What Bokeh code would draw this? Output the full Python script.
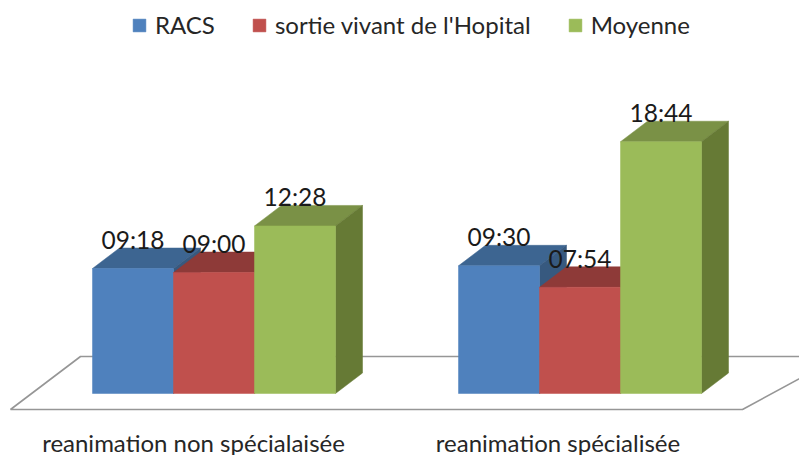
from bokeh.plotting import figure
from bokeh.models import Range1d, Legend, LegendItem, ColumnDataSource
from bokeh.core.properties import value
from bokeh.embed import file_html
from bokeh.resources import INLINE

categories = ["reanimation non spécialaisée", "reanimation spécialisée"]
series_names = ["RACS", "sortie vivant de l'Hopital", "Moyenne"]
racs = ["09:18", "09:30"]
sortie = ["09:00", "07:54"]
moyenne = ["12:28", "18:44"]

front_colors = ["#4F81BD", "#C0504D", "#9BBB59"]
top_colors = ["#3D6591", "#8E3A38", "#7A9146"]
side_colors = ["#37597F", "#7D3331", "#667A35"]

FONT = "Lato"
PX_PER_HOUR = 13.44
BASE_Y = 393          # reference pixel row of hour 0
GROUP_LEFT = [92, 458]
BAR_W = 81
DEPTH_X, DEPTH_Y = 27, 20.5


def hours(s):
    h, m = s.split(":")
    return int(h) + int(m) / 60


def row(px):          # reference pixel row -> data value
    return (BASE_Y - px) / PX_PER_HOUR


W, H = 799, 455
p = figure(width=W, height=H, output_backend="svg", toolbar_location=None,
           x_range=Range1d(0, W),
           y_range=Range1d(row(H), row(0)),
           min_border=0, border_fill_color="white")
p.xaxis.visible = False
p.yaxis.visible = False
p.grid.visible = False
p.outline_line_color = None

# floor of the 3D scene
dy = DEPTH_Y / PX_PER_HOUR
p.patch([80, 840, 742, 10], [row(356), row(356), row(409), row(409)],
        fill_color="white", line_color="#969696", line_width=1.6)

items = []
for s, (name, vals) in enumerate(zip(series_names, [racs, sortie, moyenne])):
    vs = [hours(v) for v in vals]
    lefts = [g + s * BAR_W for g in GROUP_LEFT]
    rights = [l + BAR_W for l in lefts]
    tops_x = [[l, l + DEPTH_X, r + DEPTH_X, r] for l, r in zip(lefts, rights)]
    tops_y = [[v, v + dy, v + dy, v] for v in vs]
    sides_x = [[r, r + DEPTH_X, r + DEPTH_X, r] for r in rights]
    sides_y = [[0, dy, v + dy, v] for v in vs]
    p.patches(tops_x, tops_y, fill_color=top_colors[s], line_color=top_colors[s], line_width=0.5)
    p.patches(sides_x, sides_y, fill_color=side_colors[s], line_color=side_colors[s], line_width=0.5)
    front = p.quad(left=lefts, right=rights, bottom=0, top=vs,
                   fill_color=front_colors[s], line_color=front_colors[s], line_width=0.5)
    items.append(LegendItem(label=name, renderers=[front]))

# data labels
for s, vals in enumerate([racs, sortie, moyenne]):
    src = ColumnDataSource(dict(
        x=[g + s * BAR_W + BAR_W / 2 for g in GROUP_LEFT],
        y=[hours(v) + 29 / PX_PER_HOUR for v in vals],
        t=vals))
    p.text("x", "y", text="t", source=src, text_font=value(FONT), text_font_size="24.5px",
           text_color="#1A1A1A", text_align="center", text_baseline="middle")

# category labels
p.text([193, 557.5], [row(441.5)] * 2, text=categories, text_font=value(FONT),
       text_font_size="24px", text_color="#262626", text_align="center",
       text_baseline="middle")

legend = Legend(items=items, orientation="horizontal", location=(131, H - 39),
                background_fill_alpha=0, border_line_color=None,
                label_text_font=FONT, label_text_font_size="24px", label_text_color="#262626",
                glyph_width=16, glyph_height=16, label_standoff=8, spacing=36,
                padding=0, margin=0)
p.add_layout(legend, "center")

open("out.html", "w").write(file_html(p, INLINE))
